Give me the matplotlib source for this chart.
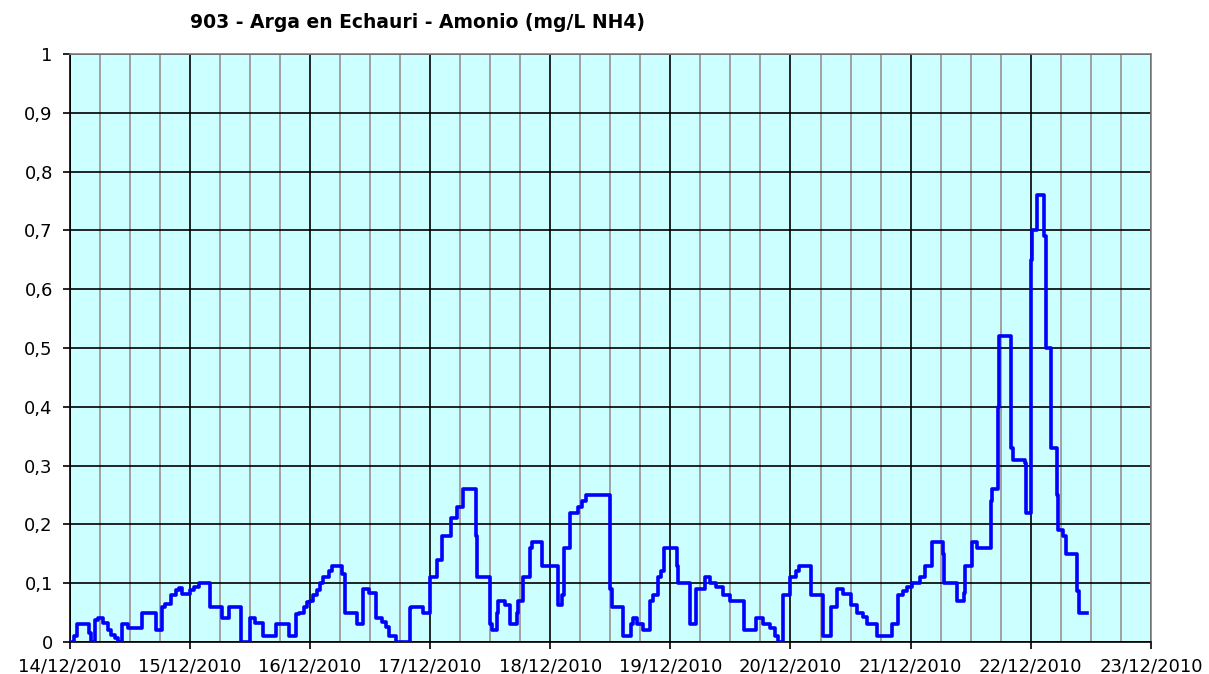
import datetime as dt
import matplotlib
matplotlib.use("Agg")
import matplotlib.pyplot as plt
import matplotlib.dates as mdates
from matplotlib.ticker import MultipleLocator, FuncFormatter

# Ammonium readings, step series: hours since 14/12/2010 00:00 and value (mg/L NH4)
hours = [
    0.0, 0.8, 1.4, 3.9, 4.2, 5.1, 5.6, 6.6, 7.6, 8.2, 9.1, 9.7, 10.4, 11.7,
    14.5, 17.2, 18.5, 19.1, 20.3, 21.2, 21.9, 22.4, 24.1, 24.9, 25.9, 28.1,
    30.4, 31.8, 34.2, 36.0, 37.0, 38.7, 41.2, 43.9, 45.2, 45.9, 46.8, 47.4,
    48.0, 48.6, 49.4, 50.0, 50.6, 51.9, 52.5, 54.5, 55.0, 57.5, 58.7, 59.9,
    61.2, 62.5, 63.3, 63.9, 65.2, 68.0, 68.3, 70.7, 72.0, 73.3, 74.3, 76.2,
    77.3, 78.6, 81.1, 81.3, 84.0, 84.3, 85.3, 85.6, 87.0, 88.0, 89.3, 89.6,
    90.6, 92.0, 92.3, 94.4, 97.5, 98.3, 98.8, 99.9, 101.5, 102.3, 103.1,
    108.0, 108.3, 110.6, 112.1, 112.6, 113.3, 114.6, 116.0, 116.6, 117.6,
    118.2, 118.7, 121.4, 121.6, 124.0, 125.2, 126.9, 127.9, 129.2, 130.6,
    131.9, 134.7, 137.2, 138.5, 139.9, 140.9, 141.5, 142.5, 143.9, 145.2,
    145.7, 148.0, 150.5, 152.0, 153.2, 154.5, 156.0, 157.2, 158.5, 159.2,
    161.3, 164.2, 165.5, 166.5, 167.3, 168.2, 169.8, 170.8, 172.2, 174.5,
    174.7, 177.2, 178.6, 178.8, 180.3, 181.3, 184.1, 184.3, 185.5, 185.7,
    188.1, 188.5, 190.8, 191.0, 192.1, 192.3, 193.3, 194.6, 195.0, 196.1,
    197.2, 197.5, 198.4, 199.0, 201.2, 201.6, 203.2,
]
values = [
    0.0, 0.01, 0.03, 0.015, 0.0, 0.037, 0.04, 0.032, 0.02, 0.012, 0.006, 0.0, 0.03, 0.023,
    0.05, 0.02, 0.06, 0.065, 0.08, 0.088, 0.092, 0.082, 0.088, 0.094, 0.10, 0.06,
    0.04, 0.06, 0.0, 0.04, 0.032, 0.01, 0.03, 0.01, 0.047, 0.05, 0.06, 0.068,
    0.07, 0.08, 0.088, 0.10, 0.11, 0.12, 0.13, 0.115, 0.05, 0.03, 0.09, 0.083,
    0.04, 0.034, 0.025, 0.01, 0.0, 0.057, 0.06, 0.05, 0.11, 0.14, 0.18, 0.21,
    0.23, 0.26, 0.18, 0.11, 0.03, 0.02, 0.05, 0.07, 0.063, 0.03, 0.05, 0.07,
    0.11, 0.16, 0.17, 0.13, 0.063, 0.08, 0.16, 0.22, 0.23, 0.24, 0.25,
    0.09, 0.06, 0.01, 0.03, 0.04, 0.03, 0.02, 0.07, 0.08, 0.11,
    0.12, 0.16, 0.13, 0.10, 0.03, 0.09, 0.11, 0.10, 0.093, 0.08,
    0.07, 0.02, 0.04, 0.03, 0.023, 0.01, 0.0, 0.08, 0.11, 0.12,
    0.13, 0.08, 0.01, 0.06, 0.09, 0.082, 0.063, 0.05, 0.043, 0.03,
    0.01, 0.03, 0.08, 0.087, 0.093, 0.10, 0.11, 0.13, 0.17, 0.15,
    0.10, 0.07, 0.083, 0.13, 0.17, 0.16, 0.24, 0.26, 0.40, 0.52,
    0.33, 0.31, 0.305, 0.22, 0.65, 0.70, 0.76, 0.69, 0.50, 0.33,
    0.25, 0.19, 0.18, 0.15, 0.087, 0.05, 0.05,
]

start = dt.datetime(2010, 12, 14)
end = dt.datetime(2010, 12, 23)
times = [start + dt.timedelta(hours=h) for h in hours]

fig = plt.figure(figsize=(12.09, 6.74), dpi=100)
ax = fig.add_axes([0.0575, 0.0475, 0.8945, 0.8725])
ax.set_facecolor("#CCFFFF")

ax.plot(times, values, color="#0000FF", lw=2.6, drawstyle="steps-post", zorder=3)

ax.set_xlim(start, end)
ax.set_ylim(0, 1)
ax.xaxis.set_major_locator(mdates.DayLocator())
ax.xaxis.set_minor_locator(mdates.HourLocator(byhour=[6, 12, 18]))
ax.xaxis.set_major_formatter(mdates.DateFormatter("%d/%m/%Y"))
ax.yaxis.set_major_locator(MultipleLocator(0.1))
ax.yaxis.set_major_formatter(FuncFormatter(
    lambda v, p: f"{v:.1f}".replace(".", ",").replace(",0", "") if v not in (0, 1) else f"{v:.0f}"))

ax.grid(which="major", color="black", lw=1.2, zorder=1)
ax.grid(which="minor", axis="x", color="#A0A0A0", lw=1.4, zorder=0.5)
ax.set_axisbelow(True)

ax.tick_params(which="major", direction="out", length=5, width=1.2, labelsize=13, color="black")
ax.tick_params(axis="x", pad=6)
ax.tick_params(axis="y", pad=7)
ax.tick_params(which="minor", length=0)

for side in ["left", "bottom"]:
    ax.spines[side].set_color("black")
    ax.spines[side].set_linewidth(1.2)
for side in ["top", "right"]:
    ax.spines[side].set_color("#808080")
    ax.spines[side].set_linewidth(1.2)

fig.text(417 / 1209, 1 - 22 / 674, "903 - Arga en Echauri - Amonio (mg/L NH4)",
         ha="center", va="center", fontsize=13.5, fontweight="bold")

fig.savefig("out.png", dpi=100)
